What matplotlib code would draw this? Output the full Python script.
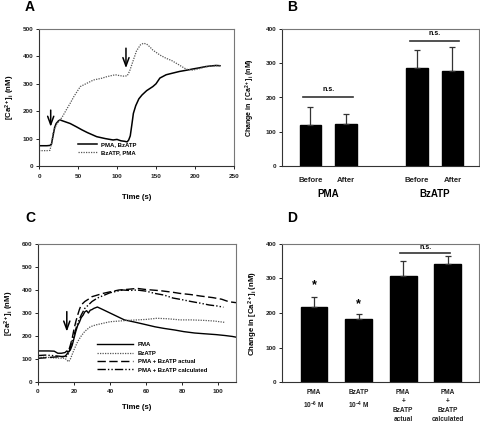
import matplotlib
matplotlib.use("Agg")
import matplotlib.pyplot as plt

plt.rcParams['font.family'] = ['Liberation Sans', 'DejaVu Sans']
plt.rcParams['font.weight'] = 'bold'
plt.rcParams['mathtext.fontset'] = 'custom'
plt.rcParams['mathtext.rm'] = 'Liberation Sans:bold'
plt.rcParams['mathtext.it'] = 'Liberation Sans:bold'
plt.rcParams['mathtext.bf'] = 'Liberation Sans:bold'

# ---------------- Panel A data ----------------
a_t_solid = [0, 5, 10, 14, 16, 18, 20, 22, 25, 27, 30, 35, 40, 48, 55, 62, 74, 85, 95, 100, 105, 110, 113,
             115, 117, 119, 121, 124, 128, 132, 138, 146, 150, 155, 163, 170, 180, 190, 197, 205, 214, 220, 227, 232]
a_v_solid = [74, 74, 74, 75, 80, 110, 140, 155, 165, 168, 165, 160, 155, 143, 132, 122, 107, 100, 95, 97, 92, 90, 88,
             95, 110, 150, 192, 220, 245, 259, 275, 290, 300, 321, 333, 338, 345, 350, 354, 358, 363, 365, 367, 366]
a_t_dot = [0, 5, 10, 14, 16, 18, 20, 23, 27, 30, 35, 40, 45, 53, 60, 70, 80, 87, 93, 98, 103, 108, 113,
           116, 119, 121, 125, 130, 134, 138, 142, 146, 155, 163, 170, 176, 183, 189, 197, 205, 214, 222, 232]
a_v_dot = [56, 56, 56, 57, 80, 119, 135, 155, 168, 180, 205, 229, 255, 290, 300, 314, 320, 326, 330, 333, 330, 328, 329,
           345, 370, 387, 420, 442, 448, 445, 435, 423, 405, 393, 385, 375, 363, 353, 350, 355, 362, 365, 366]
a_labels = ['PMA, BzATP', 'BzATP, PMA']
a_arrows = [(15, 204, 143), (111.5, 430, 357)]

# ---------------- Panel B data ----------------
b_cats = ['Before', 'After', 'Before', 'After']
b_groups = ['PMA', 'BzATP']
b_vals = [119, 124, 285, 278]
b_errs = [52, 29, 54, 70]
b_ns = [200, 365]

# ---------------- Panel C data ----------------
c_t_pma = [0, 3, 6, 9, 11, 13, 15, 16, 17, 18, 19, 20, 21, 22, 23, 24, 25, 26, 27, 28, 29, 30, 31, 33, 36, 40,
           44, 48, 54, 59, 65, 70, 76, 81, 87, 92, 99, 104, 108, 110]
c_v_pma = [135, 135, 135, 134, 125, 125, 128, 135, 130, 140, 160, 190, 220, 245, 260, 280, 290, 305, 310, 300, 312,
           315, 320, 326, 315, 300, 285, 270, 260, 251, 240, 233, 226, 219, 213, 210, 206, 202, 198, 195]
c_t_bz = [0, 4, 8, 12, 15, 17, 18, 20, 22, 24, 26, 29, 32, 36, 40, 45, 50, 55, 60, 66, 72, 79, 85, 92, 98, 104]
c_v_bz = [106, 108, 105, 104, 103, 88, 100, 140, 175, 200, 220, 240, 248, 255, 262, 265, 268, 270, 272, 277, 275,
          270, 270, 268, 265, 259]
c_t_act = [0, 4, 8, 12, 15, 16, 17, 18, 19, 20, 21, 22, 23, 24, 26, 28, 30, 33, 36, 40, 45, 50, 55, 60, 68, 75,
           79, 85, 90, 97, 102, 106, 110]
c_v_act = [103, 105, 108, 110, 112, 120, 135, 161, 190, 230, 262, 290, 315, 335, 350, 360, 371, 378, 385, 392, 400,
           403, 407, 402, 397, 390, 385, 380, 374, 367, 360, 349, 345]
c_t_calc = [0, 4, 8, 12, 15, 16, 17, 18, 19, 20, 21, 22, 24, 26, 28, 30, 33, 36, 40, 44, 47, 51, 55, 60, 65, 70,
            75, 80, 85, 90, 95, 100, 103]
c_v_calc = [115, 117, 115, 112, 108, 112, 125, 150, 180, 204, 230, 255, 291, 320, 335, 350, 365, 375, 388, 395,
            400, 398, 400, 395, 385, 378, 365, 358, 350, 343, 335, 330, 325]
c_labels = ['PMA', 'BzATP', 'PMA + BzATP actual', 'PMA + BzATP calculated']
c_arrow = (16, 306, 219)

# ---------------- Panel D data ----------------
d_cats = ['PMA\n10$^{-6}$ M', 'BzATP\n10$^{-4}$ M', 'PMA\n+\nBzATP\nactual', 'PMA\n+\nBzATP\ncalculated']
d_vals = [218, 183, 307, 341]
d_errs = [29, 15, 44, 25]
d_star = [281, 226]
d_ns = 375

W, H = 480, 423
fig = plt.figure(figsize=(W / 100, H / 100), dpi=100)

def ax_px(l, t, r, b):
    return fig.add_axes([l / W, 1 - b / H, (r - l) / W, (b - t) / H])

axA = ax_px(39, 29, 234, 166)
axB = ax_px(282, 29, 479, 166)
axC = ax_px(38, 244, 236, 382)
axD = ax_px(282, 244, 479, 382)

TICK_FS = 4.6
LAB_FS = 5.6

def style(ax):
    for s in ax.spines.values():
        s.set_linewidth(0.8)
        s.set_color('#333333')
    ax.spines['top'].set_color('#777777')
    ax.spines['right'].set_color('#777777')
    ax.tick_params(direction='out', length=2.2, width=0.7, labelsize=TICK_FS, pad=2, colors='#222222')
    for lab in ax.get_xticklabels() + ax.get_yticklabels():
        lab.set_fontweight('bold')

def arrow(ax, x, y0, y1):
    ax.annotate('', xy=(x, y1), xytext=(x, y0),
                arrowprops=dict(arrowstyle='->,head_length=0.6,head_width=0.22', lw=1.1, color='black',
                                shrinkA=0, shrinkB=0))

# ---- A ----
axA.plot(a_t_solid, a_v_solid, color='black', lw=1.1, label=a_labels[0])
axA.plot(a_t_dot, a_v_dot, color='#555555', lw=0.9, ls=(0, (1, 1)), label=a_labels[1])
for x, y0, y1 in a_arrows:
    arrow(axA, x, y0, y1)
axA.set_xlim(0, 250)
axA.set_ylim(0, 500)
axA.set_xticks(range(0, 251, 50))
axA.set_yticks(range(0, 501, 100))
style(axA)
axA.tick_params(axis='x', pad=3.5)
axA.set_xlabel('Time (s)', fontsize=LAB_FS, fontweight='bold', labelpad=11)
axA.set_ylabel('[Ca$^{2+}$]$_\\mathregular{i}$ (nM)', fontsize=LAB_FS, fontweight='bold', labelpad=4)
axA.legend(loc='upper left', bbox_to_anchor=(0.2, 0.175), frameon=False, fontsize=4.3,
           handlelength=3.2, handletextpad=0.6, labelspacing=0.45, borderpad=0, borderaxespad=0)

# ---- B ----
b_pos = [0, 1, 3, 4]
axB.bar(b_pos, b_vals, width=0.6, color='black', edgecolor='black')
axB.errorbar(b_pos, b_vals, yerr=[[0] * 4, b_errs], fmt='none', ecolor='#333333', elinewidth=0.9,
             capsize=2, capthick=0.9)
axB.plot([-0.2, 1.2], [b_ns[0], b_ns[0]], color='#333333', lw=1.2)
axB.plot([2.8, 4.2], [b_ns[1], b_ns[1]], color='#333333', lw=1.2)
axB.text(0.5, b_ns[0] + 12, 'n.s.', ha='center', va='bottom', fontsize=5, fontweight='bold')
axB.text(3.5, b_ns[1] + 12, 'n.s.', ha='center', va='bottom', fontsize=5, fontweight='bold')
axB.set_xlim(-0.8, 4.75)
axB.set_ylim(0, 400)
axB.set_yticks(range(0, 401, 100))
axB.set_xticks(b_pos)
axB.set_xticklabels(b_cats)
style(axB)
axB.tick_params(axis='x', length=0, labelsize=5.6, pad=8)
axB.set_ylabel('Change in  [Ca$^{2+}$]$_\\mathregular{i}$ (nM)', fontsize=5, fontweight='bold', labelpad=6)
for i, g in enumerate(b_groups):
    axB.text([0.5, 3.5][i], -0.17, g, transform=axB.get_xaxis_transform(), ha='center', va='top',
             fontsize=7, fontweight='bold')

# ---- C ----
axC.plot(c_t_pma, c_v_pma, color='black', lw=1.0, label=c_labels[0])
axC.plot(c_t_bz, c_v_bz, color='#555555', lw=0.9, ls=(0, (1, 1)), label=c_labels[1])
axC.plot(c_t_act, c_v_act, color='black', lw=1.0, ls=(0, (6, 2.5)), label=c_labels[2])
axC.plot(c_t_calc, c_v_calc, color='black', lw=1.0, ls=(0, (6, 1.5, 1, 1.5, 1, 1.5)), label=c_labels[3])
arrow(axC, *c_arrow)
axC.set_xlim(0, 110)
axC.set_ylim(0, 600)
axC.set_xticks(range(0, 101, 20))
axC.set_yticks(range(0, 601, 100))
style(axC)
axC.tick_params(axis='x', pad=3)
axC.set_xlabel('Time (s)', fontsize=LAB_FS, fontweight='bold', labelpad=7)
axC.set_ylabel('[Ca$^{2+}$]$_\\mathregular{i}$ (nM)', fontsize=LAB_FS, fontweight='bold', labelpad=4)
axC.legend(loc='upper left', bbox_to_anchor=(0.3, 0.29), frameon=False, fontsize=4.3,
           handlelength=6.0, handletextpad=0.8, labelspacing=0.55, borderpad=0, borderaxespad=0)

# ---- D ----
d_pos = [0, 1, 2, 3]
axD.bar(d_pos, d_vals, width=0.6, color='black', edgecolor='black')
axD.errorbar(d_pos, d_vals, yerr=[[0] * 4, d_errs], fmt='none', ecolor='#333333', elinewidth=0.9,
             capsize=2, capthick=0.9)
for i, s in enumerate(d_star):
    axD.text(d_pos[i], s, '*', ha='center', va='center', fontsize=9, fontweight='bold')
axD.plot([1.93, 3.05], [d_ns, d_ns], color='#333333', lw=1.2)
axD.text(2.5, d_ns + 6, 'n.s.', ha='center', va='bottom', fontsize=5, fontweight='bold')
axD.set_xlim(-0.72, 3.7)
axD.set_ylim(0, 400)
axD.set_yticks(range(0, 401, 100))
axD.set_xticks(d_pos)
axD.set_xticklabels(d_cats, linespacing=1.4)
style(axD)
axD.tick_params(axis='x', length=0, labelsize=4.7, pad=5)
axD.set_ylabel('Change in [Ca$^{2+}$]$_\\mathregular{i}$ (nM)', fontsize=5.6, fontweight='bold', labelpad=4)

# ---- panel letters ----
for letter, x, y in [('A', 30, 7), ('B', 292, 7), ('C', 30, 218), ('D', 292, 218)]:
    fig.text(x / W, 1 - y / H, letter, fontsize=10, fontweight='bold', ha='center', va='center')

fig.savefig('out.png', dpi=100)
